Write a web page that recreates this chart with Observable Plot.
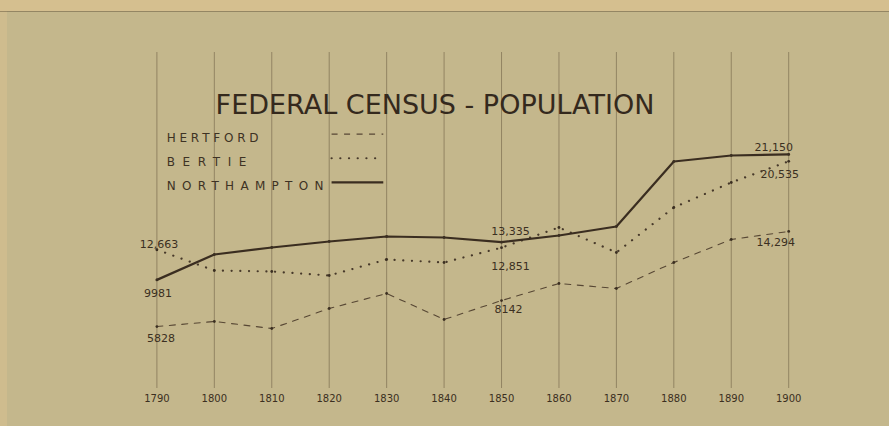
<!DOCTYPE html>
<html>
<head>
<meta charset="utf-8">
<script src="https://cdn.jsdelivr.net/npm/d3@7"></script>
<script src="https://cdn.jsdelivr.net/npm/@observablehq/plot@0.6"></script>
<style>
  html, body { margin: 0; padding: 0; background: #c4b78c; }
  #chart svg { display: block; }
</style>
</head>
<body>
<div id="chart"></div>
<script>
// ---- data ----
const years = [1790, 1800, 1810, 1820, 1830, 1840, 1850, 1860, 1870, 1880, 1890, 1900];
const hertford    = [5828, 6277, 5653, 7434, 8769, 6455, 8142, 9660, 9214, 11529, 13577, 14294];
const bertie      = [12663, 10817, 10728, 10372, 11797, 11529, 12851, 14645, 12420, 16426, 18651, 20535];
const northampton = [9981, 12242, 12865, 13399, 13844, 13755, 13335, 13933, 14734, 20521, 21055, 21150];
const seriesNames = ["HERTFORD", "BERTIE", "NORTHAMPTON"];
const titleText = "FEDERAL CENSUS - POPULATION";
// labelled values: [series, year]
const labelled = [
  ["NORTHAMPTON", 1790], ["BERTIE", 1790], ["HERTFORD", 1790],
  ["NORTHAMPTON", 1850], ["BERTIE", 1850], ["HERTFORD", 1850],
  ["NORTHAMPTON", 1900], ["BERTIE", 1900], ["HERTFORD", 1900]
];

// ---- build table ----
const valuesBy = {HERTFORD: hertford, BERTIE: bertie, NORTHAMPTON: northampton};
const rows = seriesNames.flatMap(s => years.map((y, i) => ({series: s, year: y, value: valuesBy[s][i]})));

// ---- styles ----
const ink = "#3b2f21";
const lineStyle = {
  HERTFORD:    {stroke: "#574734", strokeWidth: 1.1, strokeDasharray: "6,6.5"},
  BERTIE:      {stroke: "#47392a", strokeWidth: 2.2, strokeDasharray: "0.1,8.6", strokeLinecap: "round"},
  NORTHAMPTON: {stroke: "#3a2d20", strokeWidth: 2.2}
};
// label offsets (pixels) relative to their point
const labelOffset = {
  "NORTHAMPTON-1790": [1, 14], "BERTIE-1790": [2, -5], "HERTFORD-1790": [4, 12],
  "NORTHAMPTON-1850": [9, -11], "BERTIE-1850": [9, 19], "HERTFORD-1850": [7, 9],
  "NORTHAMPTON-1900": [-15, -7], "BERTIE-1900": [-9, 13], "HERTFORD-1900": [-13, 11]
};
const legendLetterSpacing = {HERTFORD: 3.8, BERTIE: 7.6, NORTHAMPTON: 6.3};

const fmt = v => v >= 10000 ? d3.format(",")(v) : String(v);
const labelRows = labelled.map(([s, y]) => {
  const r = rows.find(d => d.series === s && d.year === y);
  return {...r, text: fmt(r.value), key: s + "-" + y};
});

// legend layout (in chart units)
const legendRows = seriesNames.map((s, i) => ({series: s, x: 1791.7, y: 22580 - i * 2150}));

const marks = [
  // vertical grid
  Plot.ruleX(years, {stroke: "#574731", strokeOpacity: 0.45, strokeWidth: 1}),
  // tick labels
  Plot.text(years, {x: d => d, frameAnchor: "bottom", lineAnchor: "middle", dy: 10.5,
    text: d => String(d), fontSize: 10, fill: ink}),
  // title
  Plot.text([titleText], {frameAnchor: "top", lineAnchor: "middle", dx: -10, dy: 53,
    text: d => d, fontSize: 27, fill: "#34291d"}),
  // series lines
  ...seriesNames.map(s => Plot.line(rows.filter(d => d.series === s),
    {x: "year", y: "value", ...lineStyle[s]})),
  Plot.dot(rows, {x: "year", y: "value", r: 1.4, fill: ink}),
  // value labels
  ...labelRows.map(d => Plot.text([d], {x: "year", y: "value", text: "text",
    dx: labelOffset[d.key][0], dy: labelOffset[d.key][1], fontSize: 11, fill: ink})),
  // legend
  Plot.text(legendRows, {x: "x", y: "y", text: "series", textAnchor: "start",
    fontSize: 12, fill: "#3e3224"}),
  ...legendRows.map(d => Plot.ruleY([d], {y: v => v.y + 380, x1: 1820.5, x2: 1829.5,
    ...lineStyle[d.series]}))
];

const svg = Plot.plot({
  width: 889,
  height: 426,
  marginTop: 52,
  marginBottom: 38,
  marginLeft: 0,
  marginRight: 0,
  x: {domain: [1790, 1900], range: [156.4, 788.2], axis: null},
  y: {domain: [0, 30000], range: [391.5, 54.5], axis: null},
  style: {
    background: "linear-gradient(to bottom, #d5bf8f 0px, #d5bf8f 11px, rgba(90,75,50,0.45) 11px, rgba(90,75,50,0.45) 12px, transparent 12px), linear-gradient(to right, #cfbc8e 0px, #cfbc8e 7px, #c4b78c 7px)",
    fontFamily: "'DejaVu Sans', sans-serif",
    overflow: "visible"
  },
  marks
});

d3.select(svg).selectAll("text")
  .filter(function() { return legendLetterSpacing[this.textContent] !== undefined; })
  .style("letter-spacing", function() { return legendLetterSpacing[this.textContent] + "px"; });

document.getElementById("chart").appendChild(svg);
</script>
</body>
</html>
